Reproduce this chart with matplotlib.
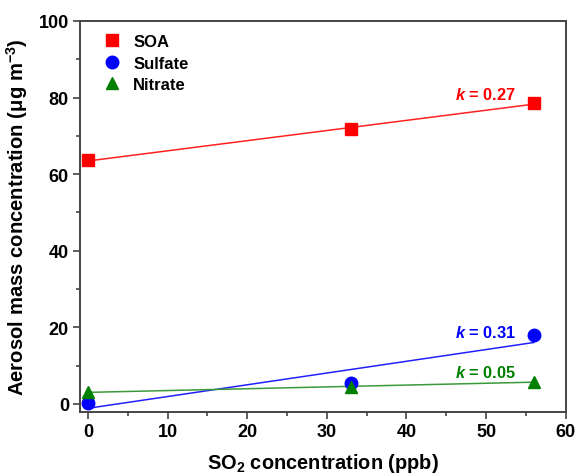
"""Aerosol mass vs SO2 concentration with linear fits per component."""

import matplotlib.pyplot as plt
import numpy as np
from matplotlib.ticker import MultipleLocator

plt.rcParams["font.family"] = ["Liberation Sans", "DejaVu Sans"]
plt.rcParams["font.weight"] = "bold"
plt.rcParams["mathtext.fontset"] = "custom"
plt.rcParams["mathtext.rm"] = "Liberation Sans:bold"
plt.rcParams["mathtext.it"] = "Liberation Sans:bold:italic"
plt.rcParams["mathtext.bf"] = "Liberation Sans:bold"

so2_ppb = np.array([0, 33, 56])
soa = np.array([63.6, 71.8, 78.5])
sulfate = np.array([0.3, 5.5, 18.1])
nitrate = np.array([3.1, 4.4, 5.8])

series = [
    ("SOA", soa, "s", "#ff0000", "#ff2020", "0.27"),
    ("Sulfate", sulfate, "o", "#0000ff", "#2020ff", "0.31"),
    ("Nitrate", nitrate, "^", "#008000", "#3a9a3a", "0.05"),
]
label_y = [81.0, 18.8, 8.3]

fig = plt.figure(figsize=(5.76, 4.77), dpi=100)
ax = fig.add_axes([0.139, 0.135, 0.843, 0.819])

x_fit = np.array([0, 56])
for (name, values, marker, color, line_color, k_text), ly in zip(series, label_y):
    slope, intercept = np.polyfit(so2_ppb, values, 1)
    ax.plot(x_fit, slope * x_fit + intercept, color=line_color, lw=1.1, zorder=2)
    ax.plot(so2_ppb, values, marker, color=color, ms=9, ls="none", label=name,
            zorder=3)
    ax.text(53.8, ly, rf"$k$ = {k_text}", color=color, fontsize=11.8,
            fontweight="bold", ha="right", va="center")

ax.set_xlim(-1, 60)
ax.set_ylim(-2, 100)
ax.xaxis.set_major_locator(MultipleLocator(10))
ax.xaxis.set_minor_locator(MultipleLocator(5))
ax.yaxis.set_major_locator(MultipleLocator(20))
ax.yaxis.set_minor_locator(MultipleLocator(10))
ax.tick_params(which="both", direction="out", color="#444444", width=1.2)
ax.tick_params(which="major", length=5, labelsize=13, pad=3)
ax.tick_params(which="minor", length=3)
for spine in ax.spines.values():
    spine.set_color("#444444")
    spine.set_linewidth(1.4)
for label in ax.get_xticklabels() + ax.get_yticklabels():
    label.set_fontweight("bold")

ax.set_xlabel(r"SO$_2$ concentration (ppb)", fontsize=14.4, fontweight="bold",
              labelpad=8)
ax.set_ylabel(r"Aerosol mass concentration (μg m$^{-3}$)", fontsize=14.6,
              fontweight="bold", labelpad=6)

ax.legend(loc="upper left", frameon=False, fontsize=12, handletextpad=0.5,
          borderaxespad=0.4, labelspacing=0.38, markerscale=1.0,
          handlelength=1.6, bbox_to_anchor=(0.01, 1.0))

fig.savefig("out.png", dpi=100, facecolor="white")
